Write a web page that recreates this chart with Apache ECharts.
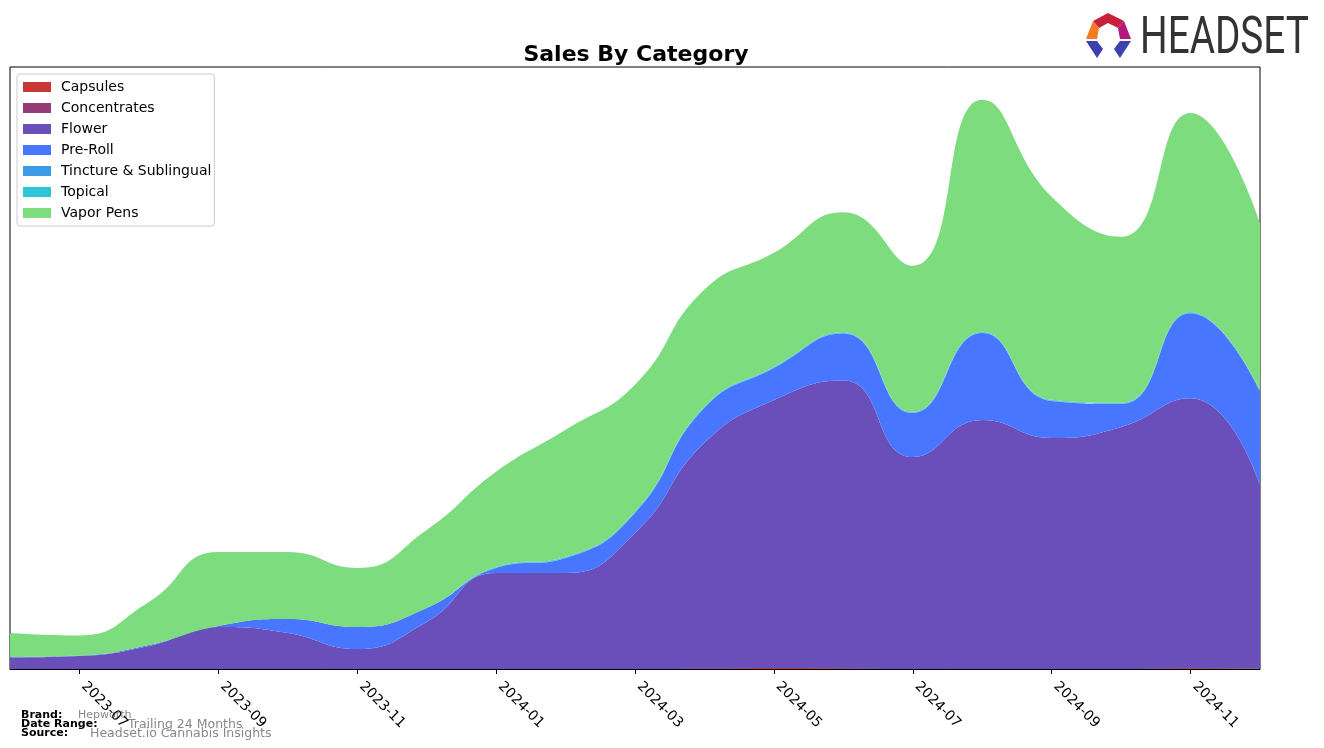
<!DOCTYPE html>
<html>
<head>
<meta charset="utf-8">
<script src="https://cdn.jsdelivr.net/npm/echarts@6/dist/echarts.min.js"></script>
<style>
html,body{margin:0;padding:0;background:#fff;}
#chart{width:1324px;height:748px;}
</style>
</head>
<body>
<div id="chart"></div>
<script>
// ---- data ----
const months = ["2023-06","2023-07","2023-08","2023-09","2023-10","2023-11","2023-12",
  "2024-01","2024-02","2024-03","2024-04","2024-05","2024-06","2024-07","2024-08",
  "2024-09","2024-10","2024-11","2024-12"];
const capsules     = [0,0,0,0,0,0,0,0,0,0,0.2,1,0.6,0,0,0,0,0.8,0.8];
const concentrates = [0,0,0,0,0,0,0,0,0,0,0,0,0,0,0,0,0,0,0];
const flower       = [11.5,13,23,42,36,20,47,96,96,136,226,268,288,212,249,231,242,270,183];
const preRoll      = [0.5,0.5,1,1,14,22,14,5,15,20,35,32,47,44,87,37,23,85,94];
const tincture     = [0,0,0,0,0,0,0,0.4,0.4,0.4,0.4,0.4,0.4,0.4,0.4,0.4,0.4,0.4,0.4];
const topical      = [0,0,0,0,0,0,0,0.8,0.8,0.8,0.8,0.8,0.8,0.8,0.8,0.8,0.8,0.8,0.8];
const vaporPens    = [24,20,43,74,67,59,78,95,127,127,117,114,120,146,232,203,166,199,167];
const seriesNames  = ["Capsules","Concentrates","Flower","Pre-Roll","Tincture & Sublingual","Topical","Vapor Pens"];
const seriesColors = ["#c83737","#943b78","#6a4fbb","#4876ff","#3f9be3","#30c5d5","#7ddc7e"];
const seriesData   = [capsules,concentrates,flower,preRoll,tincture,topical,vaporPens];

const chart = echarts.init(document.getElementById('chart'), null, {renderer:'canvas'});
const FONT = 'DejaVu Sans';

const series = seriesNames.map((name,i)=>({
  name, type:'line', stack:'total', smooth:0.5, symbol:'none',
  data: seriesData[i],
  lineStyle:{width:0, color:seriesColors[i]},
  itemStyle:{color:seriesColors[i]},
  areaStyle:{color:seriesColors[i], opacity:1},
  emphasis:{disabled:true}, silent:true
}));

const option = {
  animation:false,
  color: seriesColors,
  title:{text:'Sales By Category', left:631, textAlign:'center', top:39,
    textStyle:{fontFamily:FONT, fontSize:22, fontWeight:'bold', color:'#000'}},
  grid:{left:10, right:64, top:67, bottom:79, show:true, borderColor:'#000', borderWidth:1, backgroundColor:'transparent'},
  legend:{
    orient:'vertical', left:17, top:74, icon:'rect', itemWidth:28, itemHeight:10, itemGap:7,
    padding:[6,3,6,6], borderColor:'#cccccc', borderWidth:1, borderRadius:3, backgroundColor:'rgba(255,255,255,0.8)',
    textStyle:{fontFamily:FONT, fontSize:14, color:'#000', padding:[0,0,0,5]},
    data: seriesNames
  },
  xAxis:{
    type:'category', data:months, boundaryGap:false,
    axisLine:{show:true, lineStyle:{color:'#000', width:1}},
    axisTick:{show:true, length:5, inside:false, interval:(i)=> i%2===1, lineStyle:{color:'#000'}},
    axisLabel:{rotate:-45, interval:(i)=> i%2===1, margin:11, padding:[0,0,0,6], fontFamily:FONT, fontSize:14, color:'#000'},
    splitLine:{show:false}
  },
  yAxis:{type:'value', min:0, max:602, show:false, splitLine:{show:false}},
  series,
  graphic:[
    {type:'text', left:21, top:710, style:{text:'Brand:', font:'bold 11px "DejaVu Sans"', fill:'#000'}},
    {type:'text', left:78, top:710, style:{text:'Hepworth', font:'11px "DejaVu Sans"', fill:'#888'}},
    {type:'text', left:21, top:719, style:{text:'Date Range:', font:'bold 11px "DejaVu Sans"', fill:'#000'}},
    {type:'text', left:128, top:718, style:{text:'Trailing 24 Months', font:'12.5px "DejaVu Sans"', fill:'#888'}},
    {type:'text', left:21, top:728, style:{text:'Source:', font:'bold 11px "DejaVu Sans"', fill:'#000'}},
    {type:'text', left:90, top:727, style:{text:'Headset.io Cannabis Insights', font:'12.5px "DejaVu Sans"', fill:'#888'}},
    // logo
    {type:'polygon', shape:{points:[[1093,21],[1108,13],[1124,21],[1118,28],[1108,23],[1099,28]]}, style:{fill:'#c8203a'}},
    {type:'polygon', shape:{points:[[1093,21],[1099,28],[1097,39],[1086,39]]}, style:{fill:'#f47b20'}},
    {type:'polygon', shape:{points:[[1124,21],[1131,39],[1120,39],[1118,28]]}, style:{fill:'#b5177f'}},
    {type:'polygon', shape:{points:[[1086,41],[1097,41],[1103,49],[1097,58]]}, style:{fill:'#3f3fae'}},
    {type:'polygon', shape:{points:[[1131,41],[1120,41],[1114,49],[1120,58]]}, style:{fill:'#3f3fae'}},
    {type:'text', x:1140, y:14, scaleX:0.745, style:{text:'HEADSET', font:'52px "Roboto"', fill:'#333'}}
  ]
};
chart.setOption(option);
</script>
</body>
</html>
